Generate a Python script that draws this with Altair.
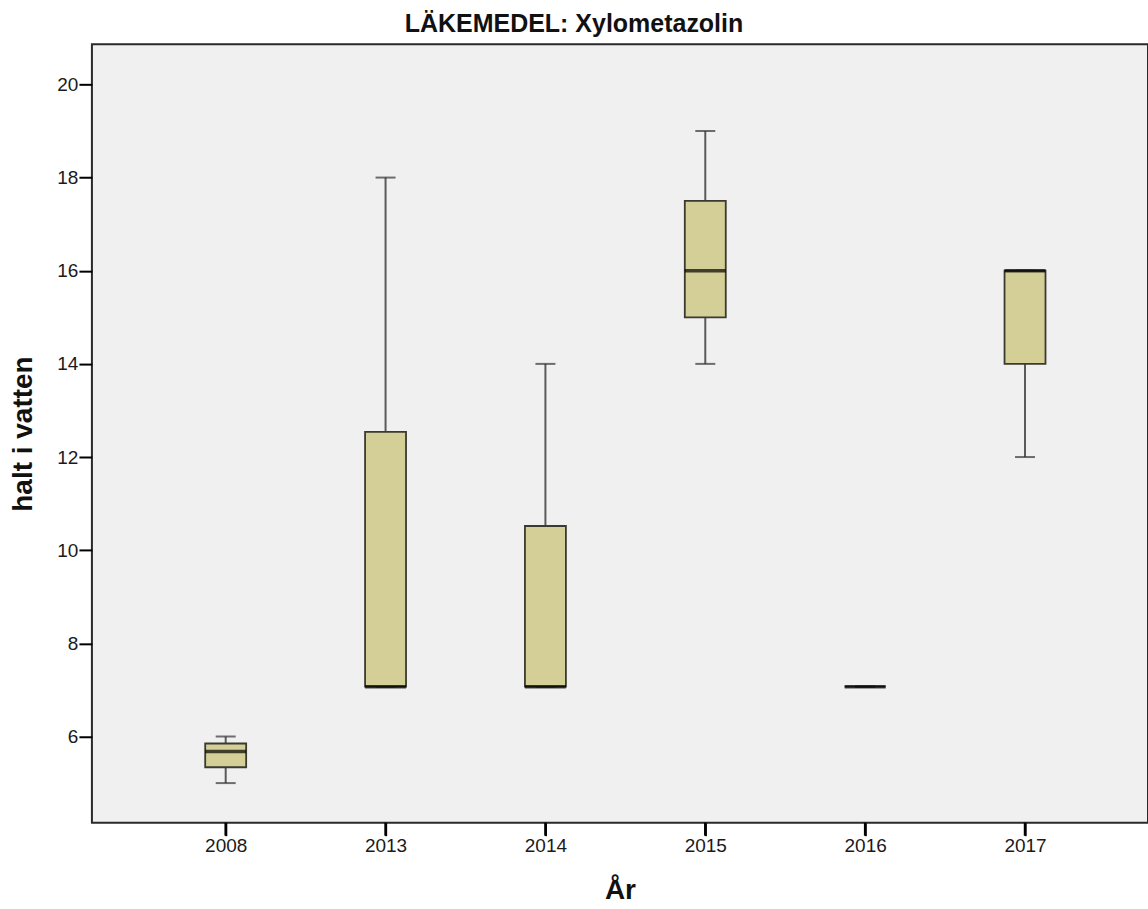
import altair as alt
import pandas as pd

years = ["2008", "2013", "2014", "2015", "2016", "2017"]
whisker_low = [5.0, 7.07, 7.07, 14.0, 7.07, 12.0]
q1 = [5.34, 7.07, 7.07, 15.0, 7.07, 14.0]
median = [5.68, 7.07, 7.07, 16.0, 7.07, 16.0]
q3 = [5.85, 12.54, 10.52, 17.5, 7.07, 16.0]
whisker_high = [6.0, 18.0, 14.0, 19.0, 7.07, 16.0]

df = pd.DataFrame({
    "year": years, "lo": whisker_low, "q1": q1, "med": median,
    "q3": q3, "hi": whisker_high,
})

FONT = "Liberation Sans"
H = 779
x = alt.X("year:N", title="År", sort=years,
          scale=alt.Scale(type="point", domain=years, padding=0.803, align=0.521),
          axis=alt.Axis(labelAngle=0, labelFontSize=19, labelColor="#1a1a1a",
                        labelFont=FONT, titleFont=FONT, titleFontSize=28,
                        titleFontWeight="bold", titleColor="#111",
                        ticks=True, tickSize=13, tickColor="#000", tickWidth=2,
                        tickOpacity=1, domain=False, labelPadding=1,
                        titlePadding=21, grid=False))
yscale = alt.Scale(domain=[4.15, 20.86], nice=False, zero=False)
yaxis = alt.Axis(values=[6, 8, 10, 12, 14, 16, 18, 20], labelFontSize=19,
                 labelColor="#1a1a1a", labelFont=FONT, titleFont=FONT,
                 titleFontSize=28, titleFontWeight="bold", titleColor="#111",
                 tickSize=13, tickColor="#000", tickWidth=2,
                 domain=False, labelPadding=1, titlePadding=19, grid=False)

base = alt.Chart(df)

whisk_lo = base.mark_rule(color="#5a5a5a", strokeWidth=2).encode(
    x=x, y=alt.Y("lo:Q", scale=yscale, axis=yaxis, title="halt i vatten"),
    y2="q1:Q")
whisk_hi = base.mark_rule(color="#5a5a5a", strokeWidth=2).encode(
    x=x, y=alt.Y("q3:Q", scale=yscale), y2="hi:Q")
cap_lo = base.mark_tick(color="#333", size=20, thickness=2).encode(
    x=x, y=alt.Y("lo:Q", scale=yscale))
cap_hi = base.mark_tick(color="#333", size=20, thickness=2).encode(
    x=x, y=alt.Y("hi:Q", scale=yscale))
box = base.mark_bar(size=41, fill="#d3cf97", stroke="#3a3a30",
                    strokeWidth=1.8).encode(
    x=x, y=alt.Y("q1:Q", scale=yscale), y2="q3:Q")
med = base.mark_tick(color="#000", size=41, thickness=3.5).encode(
    x=x, y=alt.Y("med:Q", scale=yscale))
# x-axis tick marks below the frame
xticks = base.mark_rule(color="#000", strokeWidth=2.5, clip=False).encode(
    x=x, y=alt.value(H), y2=alt.value(H + 13))

chart = alt.layer(whisk_lo, whisk_hi, cap_lo, cap_hi, box, med, xticks).properties(
    width=1057, height=H,
    title=alt.TitleParams("LÄKEMEDEL: Xylometazolin", font=FONT,
                          fontSize=25, fontWeight="bold", color="#111",
                          offset=7, anchor="middle", dx=-46),
    padding={"left": 9, "top": 12, "right": 0, "bottom": 4},
    background="white",
).configure_view(fill="#f0f0f0", stroke="#2a2a2a", strokeWidth=2)

chart.save("out.html", embed_options={"renderer": "svg", "actions": False})
